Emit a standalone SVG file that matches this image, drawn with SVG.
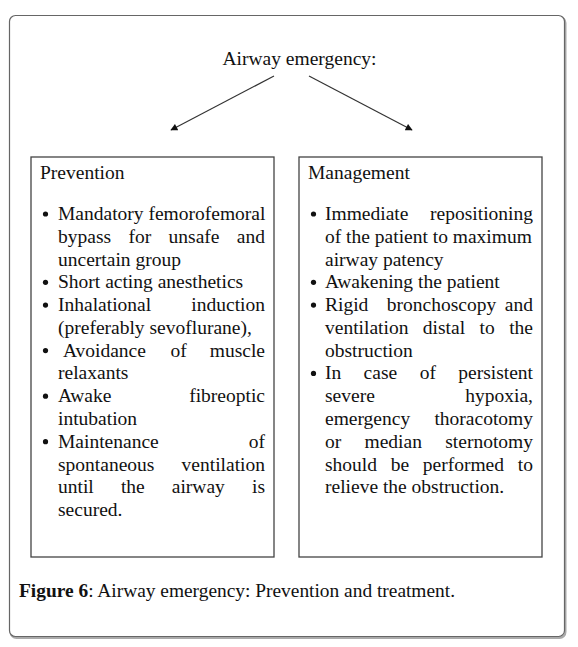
<svg xmlns="http://www.w3.org/2000/svg" width="578" height="647" viewBox="0 0 578 647">
<style>
  text { font-family: "Liberation Serif", "Times New Roman", serif; font-size: 19.5px; fill: #111; }
  .e { text-anchor: end; }
  .box { fill: #fff; stroke: #444; stroke-width: 1.3; }
  .conn { stroke: #333; stroke-width: 1.2; fill: none; }
  .bul { fill: #111; }
</style>
<defs>
  <marker id="ah" viewBox="0 0 10 10" refX="9" refY="5" markerWidth="8" markerHeight="7" markerUnits="userSpaceOnUse" orient="auto">
    <path d="M0,0 L10,5 L0,10 z" fill="#111"/>
  </marker>
</defs>
<rect width="578" height="647" fill="#fff"/>
<g id="frame">
  <rect x="10.5" y="17" width="555" height="621" rx="6" fill="none" stroke="#aaa" stroke-width="2"/>
  <rect x="9.5" y="15.5" width="555" height="621" rx="6" fill="#fff" stroke="#666" stroke-width="1.2"/>
</g>
<g id="title">
  <text x="299.5" y="65" text-anchor="middle">Airway emergency:</text>
</g>
<g id="connectors">
  <line class="conn" x1="274" y1="76" x2="171" y2="130" marker-end="url(#ah)"/>
  <line class="conn" x1="309" y1="76" x2="412" y2="130" marker-end="url(#ah)"/>
</g>
<g id="prevention">
  <rect class="box" x="31" y="157" width="243" height="400"/>
  <text x="40" y="179">Prevention</text>
  <circle class="bul" cx="45.5" cy="214" r="2.6"/>
  <circle class="bul" cx="45.5" cy="282.3" r="2.6"/>
  <circle class="bul" cx="45.5" cy="305.1" r="2.6"/>
  <circle class="bul" cx="45.5" cy="350.6" r="2.6"/>
  <circle class="bul" cx="45.5" cy="396.2" r="2.6"/>
  <circle class="bul" cx="45.5" cy="441.7" r="2.6"/>
  <text x="58" y="220">Mandatory femorofemoral</text>
  <text y="242.8"><tspan x="58">bypass</tspan><tspan x="128.5">for</tspan><tspan x="168.6">unsafe</tspan></text>
  <text class="e" x="265" y="242.8">and</text>
  <text x="58" y="265.5">uncertain group</text>
  <text x="58" y="288.3">Short acting anesthetics</text>
  <text x="58" y="311.1">Inhalational</text>
  <text class="e" x="265" y="311.1">induction</text>
  <text x="58" y="333.9">(preferably sevoflurane),</text>
  <text y="356.6"><tspan x="62.9">Avoidance</tspan><tspan x="170.5">of</tspan></text>
  <text class="e" x="265" y="356.6">muscle</text>
  <text x="58" y="379.4">relaxants</text>
  <text x="58" y="402.2">Awake</text>
  <text class="e" x="265" y="402.2">fibreoptic</text>
  <text x="58" y="424.9">intubation</text>
  <text x="58" y="447.7">Maintenance</text>
  <text class="e" x="265" y="447.7">of</text>
  <text x="58" y="470.5">spontaneous</text>
  <text class="e" x="265" y="470.5">ventilation</text>
  <text y="493.3"><tspan x="58">until</tspan><tspan x="120.9">the</tspan><tspan x="171.8">airway</tspan></text>
  <text class="e" x="265" y="493.3">is</text>
  <text x="58" y="516">secured.</text>
</g>
<g id="management">
  <rect class="box" x="299" y="157" width="243" height="400"/>
  <text x="308" y="179">Management</text>
  <circle class="bul" cx="313.5" cy="214" r="2.6"/>
  <circle class="bul" cx="313.5" cy="282.3" r="2.6"/>
  <circle class="bul" cx="313.5" cy="305.1" r="2.6"/>
  <circle class="bul" cx="313.5" cy="373.4" r="2.6"/>
  <text x="325" y="220">Immediate</text>
  <text class="e" x="533" y="220">repositioning</text>
  <text x="325" y="242.8">of the patient to maximum</text>
  <text x="325" y="265.5">airway patency</text>
  <text x="325" y="288.3">Awakening the patient</text>
  <text y="311.1"><tspan x="325">Rigid</tspan><tspan x="386.8">bronchoscopy</tspan></text>
  <text class="e" x="533" y="311.1">and</text>
  <text y="333.9"><tspan x="325">ventilation</tspan><tspan x="422.8">distal</tspan><tspan x="479.5">to</tspan></text>
  <text class="e" x="533" y="333.9">the</text>
  <text x="325" y="356.6">obstruction</text>
  <text y="379.4"><tspan x="325">In</tspan><tspan x="363.6">case</tspan><tspan x="419.7">of</tspan></text>
  <text class="e" x="533" y="379.4">persistent</text>
  <text x="325" y="402.2">severe</text>
  <text class="e" x="533" y="402.2">hypoxia,</text>
  <text x="325" y="424.9">emergency</text>
  <text class="e" x="533" y="424.9">thoracotomy</text>
  <text y="447.7"><tspan x="325">or</tspan><tspan x="364.5">median</tspan></text>
  <text class="e" x="533" y="447.7">sternotomy</text>
  <text y="470.5"><tspan x="325">should</tspan><tspan x="390.7">be</tspan><tspan x="422.8">performed</tspan></text>
  <text class="e" x="533" y="470.5">to</text>
  <text x="325" y="493.3">relieve the obstruction.</text>
</g>
<g id="caption">
  <text x="19" y="597" style="font-size:19.4px"><tspan font-weight="bold">Figure 6</tspan>: Airway emergency: Prevention and treatment.</text>
</g>
</svg>
